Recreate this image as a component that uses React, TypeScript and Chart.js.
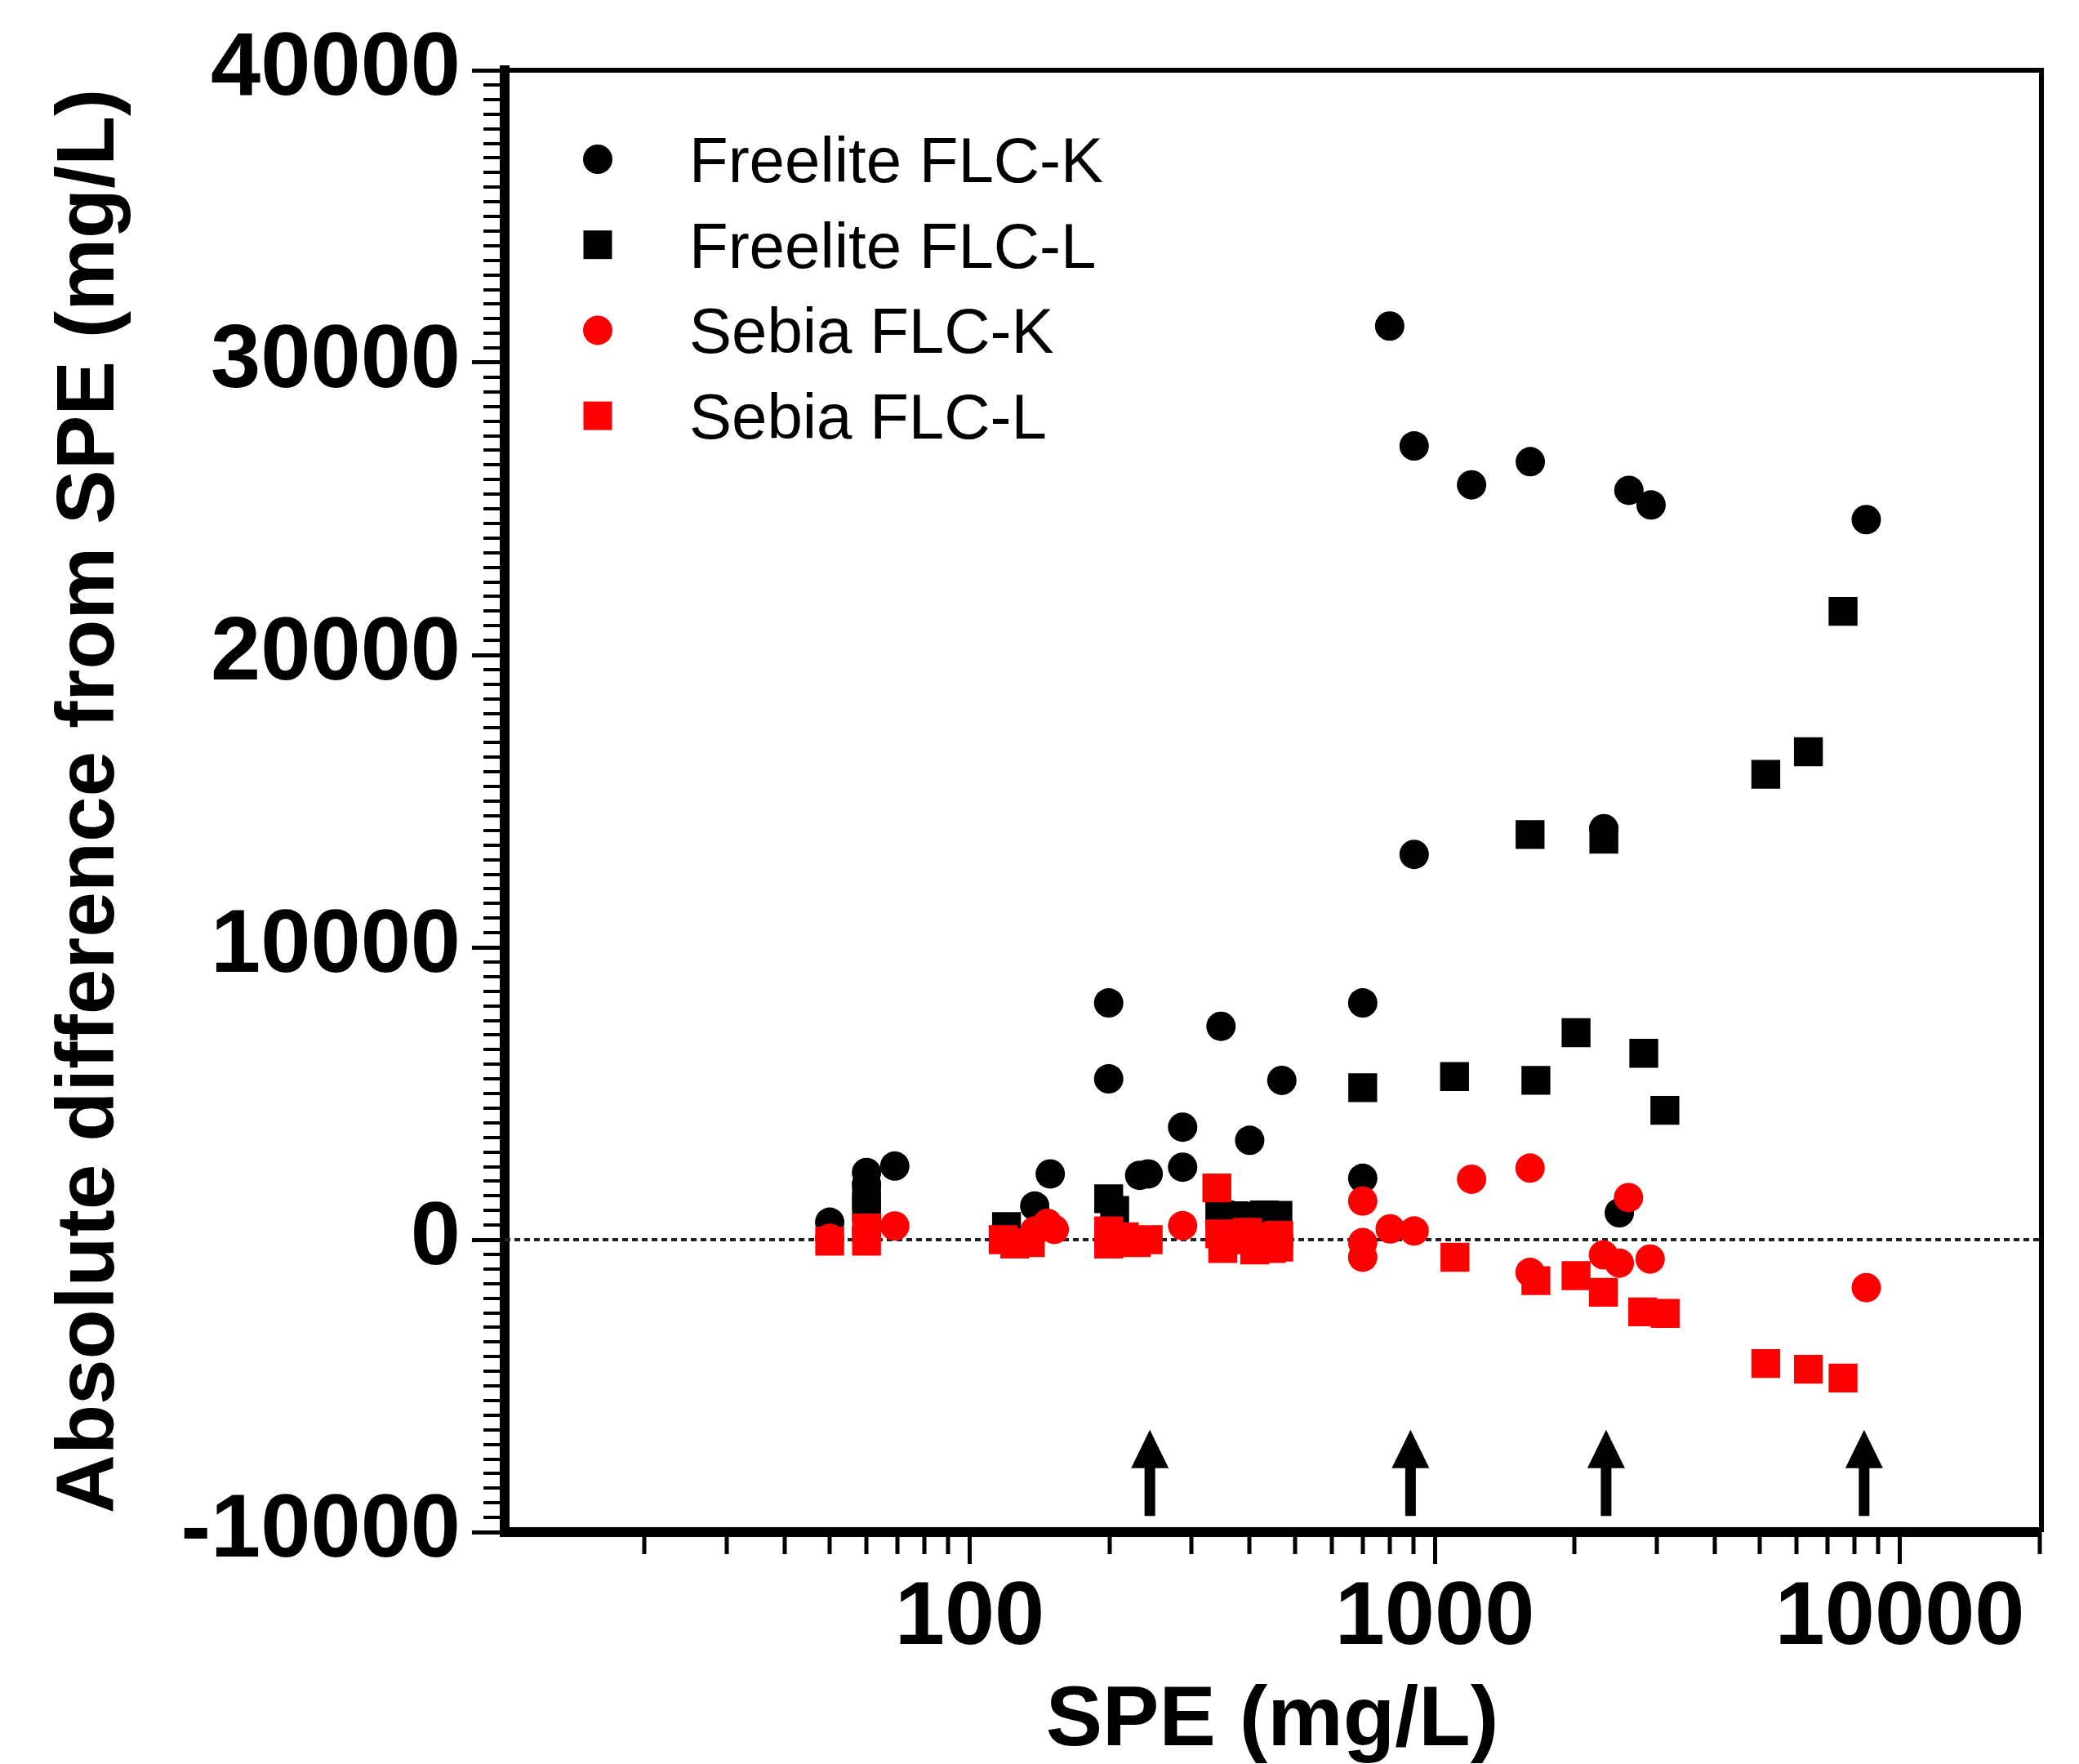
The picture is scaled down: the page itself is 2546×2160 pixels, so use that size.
import React, { useEffect, useRef } from "react";
import { Chart, registerables } from "chart.js";

Chart.register(...registerables);

// ---------- data ----------
const seriesLabels = ["Freelite FLC-K", "Freelite FLC-L", "Sebia FLC-K", "Sebia FLC-L"];

const freeliteK: [number, number][] = [
  [50, 600], [60, 2300], [60, 1900], [69, 2520], [138, 1150], [149, 2250],
  [199, 8100], [199, 5500], [232, 2200], [242, 2250], [287, 3850], [287, 2480],
  [347, 7300], [400, 3400], [469, 5450], [700, 8100], [700, 2100], [800, 31250],
  [903, 27150], [903, 13180], [1200, 25820], [1605, 26610], [2310, 14060],
  [2494, 920], [2615, 25630], [2918, 25130], [8470, 24630],
];

const freeliteL: [number, number][] = [
  [60, 1500], [60, 1100], [120, 450], [199, 1400], [205, 1000], [345, 850],
  [370, 820], [400, 800], [430, 850], [460, 830], [700, 5200], [1103, 5580],
  [1603, 13860], [1650, 5450], [2013, 7080], [2310, 13700], [2815, 6377],
  [3125, 4423], [5150, 15920], [6360, 16690], [7550, 21490],
];

const sebiaK: [number, number][] = [
  [50, 50], [60, 300], [69, 470], [138, 300], [147, 560], [152, 350], [287, 480],
  [700, 1320], [700, -100], [700, -600], [802, 370], [903, 300], [1200, 2070],
  [1603, 2450], [1603, -1120], [2305, -520], [2494, -800], [2610, 1440],
  [2905, -660], [8470, -1640],
];

const sebiaL: [number, number][] = [
  [50, -50], [60, 400], [60, -50], [118, 0], [125, -150], [135, -100], [199, 300],
  [199, -150], [215, 100], [228, -100], [242, 0], [340, 1770], [345, 200],
  [350, -300], [375, 0], [395, 250], [410, -350], [430, 100], [445, -300],
  [462, 150], [462, -250], [1105, -600], [1650, -1400], [2013, -1230],
  [2305, -1800], [2800, -2470], [3130, -2520], [5150, -4235], [6360, -4430],
  [7550, -4730],
];

const xMin = 10;
const xMax = 20000;
const xMajorTicks = [100, 1000, 10000];
const xMinorTicks = [
  20, 30, 40, 50, 60, 70, 80, 90,
  200, 300, 400, 500, 600, 700, 800, 900,
  2000, 3000, 4000, 5000, 6000, 7000, 8000, 9000,
  20000,
];
const yMin = -10000;
const yMax = 40000;
const yMajorStep = 10000;
const yMinorStep = 500;

const arrowX = [244, 887, 2336, 8380];
const arrowTipY = -6500;
const arrowBaseY = -9450;

const FONT = "'Liberation Sans', Arial, Helvetica, sans-serif";

const toPts = (arr: [number, number][]) => arr.map(([x, y]) => ({ x, y }));

// ---------- decorations drawn through the chart's scales ----------
const decorPlugin = {
  id: "decor",
  afterDraw(chart: any) {
    const { ctx, chartArea, scales } = chart;
    const xs = scales.x;
    const ys = scales.y;
    ctx.save();

    // top and right frame
    ctx.strokeStyle = "#000";
    ctx.lineWidth = 6;
    ctx.beginPath();
    ctx.moveTo(chartArea.left, chartArea.top);
    ctx.lineTo(chartArea.right + 2, chartArea.top);
    ctx.lineTo(chartArea.right + 2, chartArea.bottom);
    ctx.stroke();

    // minor ticks on y
    ctx.lineWidth = 4;
    ctx.beginPath();
    for (let v = yMin + yMinorStep; v < yMax; v += yMinorStep) {
      if (v % yMajorStep === 0) continue;
      const py = Math.round(ys.getPixelForValue(v));
      ctx.moveTo(chartArea.left - 26, py);
      ctx.lineTo(chartArea.left, py);
    }
    ctx.stroke();

    // minor ticks on x
    ctx.lineWidth = 5;
    ctx.beginPath();
    for (const v of xMinorTicks) {
      const px = Math.round(xs.getPixelForValue(v));
      ctx.moveTo(px, chartArea.bottom);
      ctx.lineTo(px, chartArea.bottom + 27);
    }
    ctx.stroke();

    // arrows
    ctx.fillStyle = "#000";
    for (const v of arrowX) {
      const px = xs.getPixelForValue(v);
      const tip = ys.getPixelForValue(arrowTipY);
      const base = ys.getPixelForValue(arrowBaseY);
      const headH = 47;
      const headW = 46;
      const shaftW = 13;
      ctx.beginPath();
      ctx.moveTo(px, tip);
      ctx.lineTo(px + headW / 2, tip + headH);
      ctx.lineTo(px - headW / 2, tip + headH);
      ctx.closePath();
      ctx.fill();
      ctx.fillRect(px - shaftW / 2, tip + headH - 2, shaftW, base - tip - headH + 2);
    }

    // legend (inside plot, top-left)
    const lx = 732;
    const ly0 = 195;
    const step = 104.7;
    const textX = 844;
    const fontSize = 78;
    ctx.font = `${fontSize}px ${FONT}`;
    ctx.textAlign = "left";
    ctx.textBaseline = "alphabetic";
    chart.data.datasets.forEach((ds: any, i: number) => {
      if (i >= seriesLabels.length) return;
      const cy = ly0 + i * step;
      ctx.fillStyle = ds.backgroundColor;
      if (ds.pointStyle === "rect") {
        const side = 35;
        ctx.fillRect(lx - side / 2, cy - side / 2, side, side);
      } else {
        ctx.beginPath();
        ctx.arc(lx, cy, 18, 0, Math.PI * 2);
        ctx.fill();
      }
      ctx.fillStyle = "#000";
      ctx.fillText(ds.label, textX, cy + fontSize * 0.716 / 2);
    });

    ctx.restore();
  },
};

export default function App() {
  const ref = useRef<HTMLCanvasElement>(null);

  useEffect(() => {
    document.body.style.margin = "0";
    document.body.style.overflow = "hidden";
    const canvas = ref.current;
    if (!canvas) return;

    const chart = new Chart(canvas, {
      type: "scatter",
      data: {
        datasets: [
          {
            label: seriesLabels[0],
            data: toPts(freeliteK),
            pointStyle: "circle",
            pointRadius: 18,
            pointBorderWidth: 0,
            backgroundColor: "#000000",
            borderColor: "#000000",
            order: 4,
          },
          {
            label: seriesLabels[1],
            data: toPts(freeliteL),
            pointStyle: "rect",
            pointRadius: 25,
            pointBorderWidth: 0,
            backgroundColor: "#000000",
            borderColor: "#000000",
            order: 3,
          },
          {
            label: seriesLabels[2],
            data: toPts(sebiaK),
            pointStyle: "circle",
            pointRadius: 18,
            pointBorderWidth: 0,
            backgroundColor: "#ff0000",
            borderColor: "#ff0000",
            order: 2,
          },
          {
            label: seriesLabels[3],
            data: toPts(sebiaL),
            pointStyle: "rect",
            pointRadius: 25,
            pointBorderWidth: 0,
            backgroundColor: "#ff0000",
            borderColor: "#ff0000",
            order: 1,
          },
          {
            type: "line",
            label: "zero",
            data: [
              { x: xMin, y: 0 },
              { x: xMax, y: 0 },
            ],
            borderColor: "#222222",
            borderWidth: 4,
            borderDash: [7, 5],
            pointRadius: 0,
            showLine: true,
            fill: false,
            order: 10,
          } as any,
        ],
      },
      options: {
        animation: false,
        responsive: false,
        devicePixelRatio: 1,
        events: [],
        layout: { padding: { left: 0, right: 48, top: 86, bottom: 0 } },
        plugins: {
          legend: { display: false },
          tooltip: { enabled: false },
        },
        scales: {
          x: {
            type: "logarithmic",
            min: xMin,
            max: xMax,
            afterBuildTicks: (s: any) => {
              s.ticks = xMajorTicks.map((v) => ({ value: v }));
            },
            afterFit: (s: any) => {
              s.height = 284;
            },
            ticks: {
              callback: (v: any) => String(v),
              autoSkip: false,
              maxRotation: 0,
              minRotation: 0,
              padding: 2,
              color: "#000",
              font: { family: FONT, size: 110, weight: "bold" },
            },
            grid: {
              drawOnChartArea: false,
              drawTicks: true,
              tickLength: 39,
              tickWidth: 5,
              tickColor: "#000",
            },
            border: { display: true, color: "#000", width: 12 },
            title: {
              display: true,
              text: "SPE (mg/L)",
              color: "#000",
              font: { family: FONT, size: 104, weight: "bold", lineHeight: 1.0 },
              padding: 0,
            },
          },
          y: {
            type: "linear",
            min: yMin,
            max: yMax,
            afterFit: (s: any) => {
              s.width = 618;
            },
            ticks: {
              stepSize: yMajorStep,
              callback: (v: any) => String(v),
              padding: 14,
              color: "#000",
              font: { family: FONT, size: 110, weight: "bold" },
            },
            grid: {
              drawOnChartArea: false,
              drawTicks: true,
              tickLength: 40,
              tickWidth: 5,
              tickColor: "#000",
            },
            border: { display: true, color: "#000", width: 12 },
            title: {
              display: true,
              text: "Absolute difference from SPE (mg/L)",
              color: "#000",
              font: { family: FONT, size: 100, weight: "bold", lineHeight: 1.2 },
              padding: { top: 51, bottom: 0 },
            },
          },
        },
      } as any,
      plugins: [decorPlugin],
    });

    return () => chart.destroy();
  }, []);

  return (
    <canvas
      ref={ref}
      width={2546}
      height={2160}
      style={{ display: "block", width: "2546px", height: "2160px" }}
    />
  );
}
